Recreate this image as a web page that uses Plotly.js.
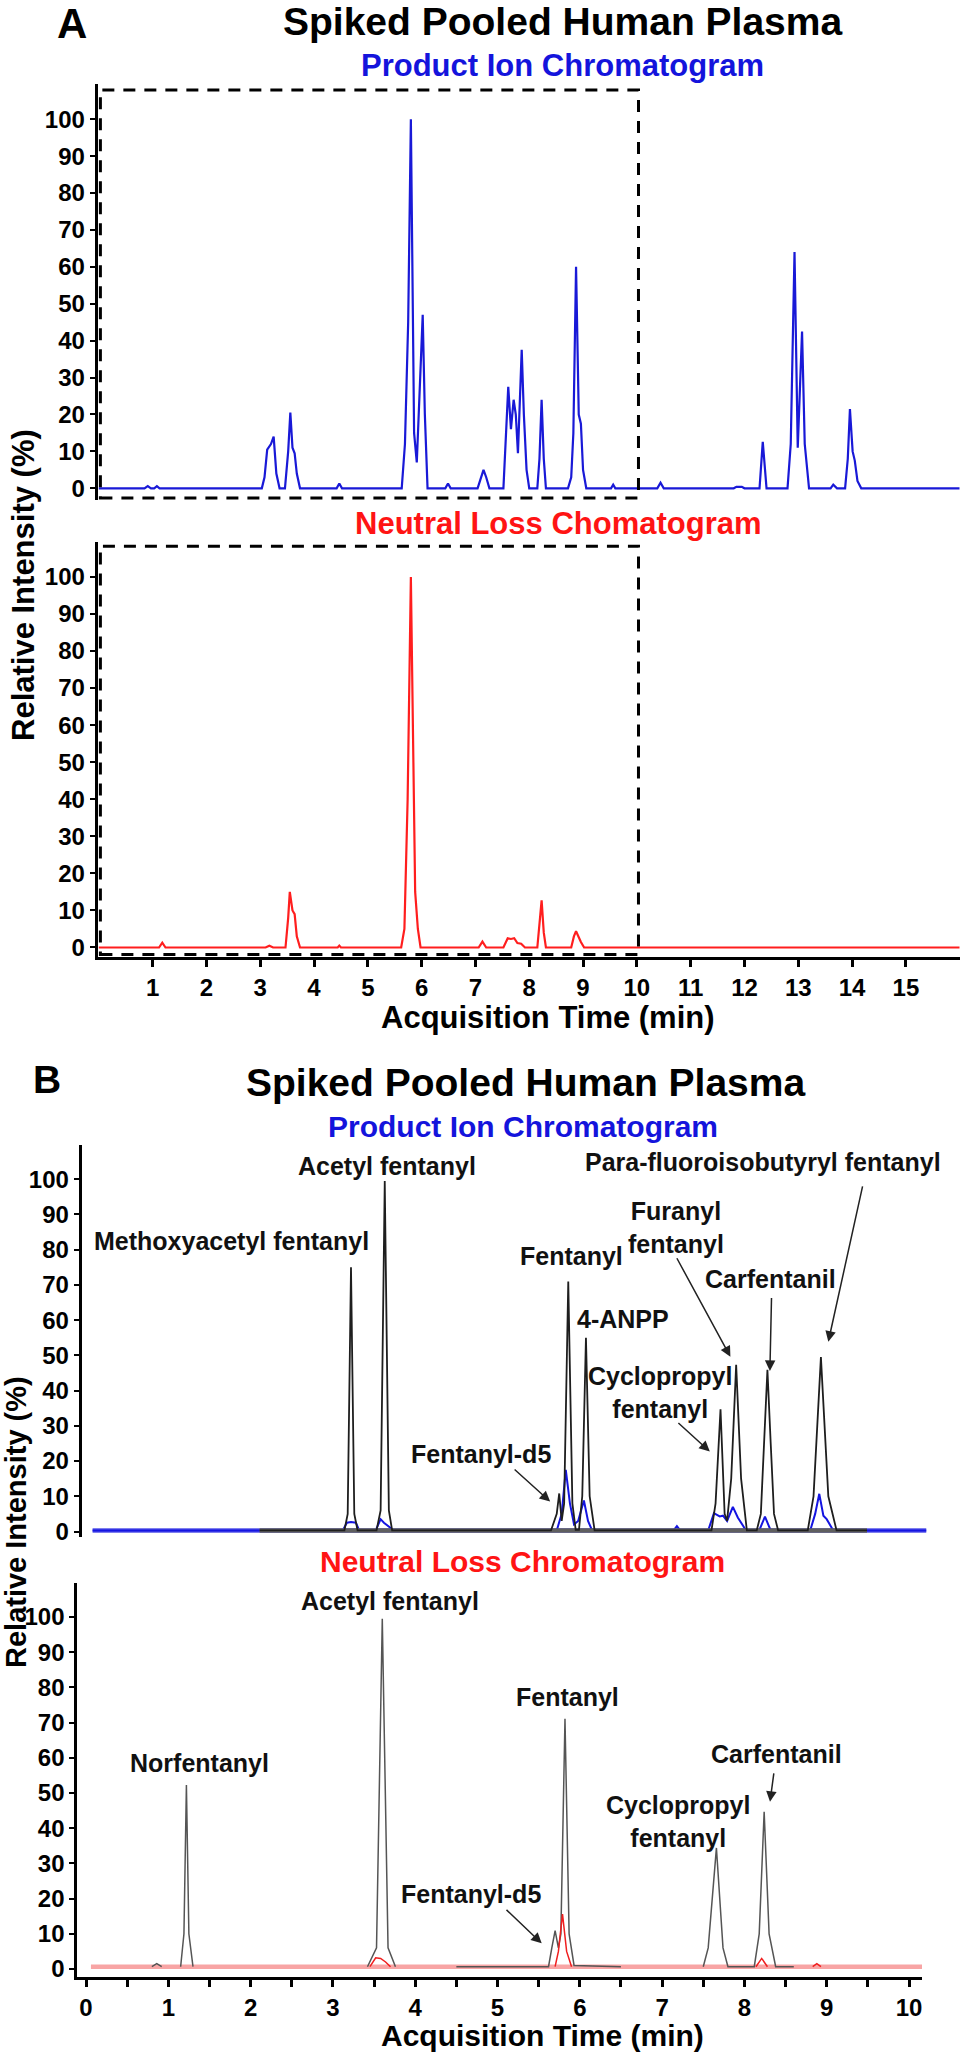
<!DOCTYPE html>
<html><head><meta charset="utf-8">
<script src="https://cdn.plot.ly/plotly-3.0.1.min.js"></script>
<style>html,body{margin:0;padding:0;background:#fff}#chart{width:961px;height:2053px}</style>
</head><body><div id="chart"></div>
<script>
// ---------- Panel A: full run (0-16 min) ----------
const aProductTime = [0, 0.85, 0.91, 0.97, 1.03, 1.08, 1.13, 3.03, 3.08, 3.13, 3.2, 3.25, 3.3, 3.36, 3.46, 3.52, 3.56, 3.6, 3.64, 3.68, 3.74, 4.42, 4.47, 4.52, 5.63, 5.69, 5.75, 5.8, 5.86, 5.91, 6.02, 6.06, 6.11, 6.44, 6.49, 6.54, 7.04, 7.1, 7.15, 7.2, 7.26, 7.52, 7.58, 7.61, 7.66, 7.71, 7.75, 7.79, 7.86, 7.9, 7.95, 8.0, 8.15, 8.19, 8.23, 8.27, 8.31, 8.72, 8.78, 8.82, 8.87, 8.92, 8.96, 9.0, 9.06, 9.52, 9.56, 9.6, 10.38, 10.44, 10.5, 11.8, 11.85, 11.95, 12.0, 12.28, 12.34, 12.41, 12.8, 12.86, 12.93, 12.99, 13.07, 13.12, 13.2, 13.6, 13.65, 13.72, 13.87, 13.92, 13.96, 14.01, 14.05, 14.1, 14.17, 16.0];
const aProductInt = [0, 0, 0.6, 0, 0, 0.6, 0, 0, 3, 10.5, 12, 14, 4, 0, 0, 10, 20.5, 11, 9.5, 4, 0, 0, 1.3, 0, 0, 12, 45, 100, 15, 7, 47, 20, 0, 0, 1.3, 0, 0, 3, 5, 3, 0, 0, 18, 27.5, 16, 24, 20, 9.5, 37.5, 20, 5, 0, 0, 8, 24, 8, 0, 0, 3, 15, 60, 20, 17.5, 5, 0, 0, 1, 0, 0, 1.5, 0, 0, 0.4, 0.4, 0, 0, 12.6, 0, 0, 12, 64, 11, 42.5, 12, 0, 0, 1, 0, 0, 8, 21.5, 10, 7.5, 2, 0, 0];

const aNeutralTime = [0, 1.12, 1.18, 1.24, 3.1, 3.17, 3.24, 3.47, 3.52, 3.55, 3.6, 3.64, 3.68, 3.74, 4.44, 4.47, 4.5, 5.62, 5.68, 5.74, 5.8, 5.85, 5.88, 5.93, 5.98, 7.06, 7.13, 7.2, 7.52, 7.6, 7.66, 7.72, 7.78, 7.85, 7.92, 8.15, 8.19, 8.23, 8.27, 8.31, 8.78, 8.83, 8.87, 8.92, 8.96, 9.02, 16.0];
const aNeutralInt = [0, 0, 1.3, 0, 0, 0.5, 0, 0, 8, 15, 10, 9, 3, 0, 0, 0.5, 0, 0, 5, 40, 100, 40, 15, 5, 0, 0, 1.6, 0, 0, 2.5, 2.3, 2.5, 1.2, 1, 0, 0, 6, 12.7, 4, 0, 0, 3, 4.4, 2.5, 1.5, 0, 0];

// ---------- Panel B top: product ion (sample = blue, standards = black) ----------
const bProductTime = [0.08, 3.12, 3.17, 3.22, 3.28, 3.32, 3.52, 3.58, 3.62, 3.68, 3.74, 5.72, 5.78, 5.83, 5.88, 5.93, 5.98, 6.05, 6.1, 6.15, 7.14, 7.18, 7.22, 7.56, 7.63, 7.7, 7.74, 7.79, 7.86, 7.92, 8.02, 8.18, 8.25, 8.32, 8.8, 8.86, 8.91, 8.96, 9.0, 9.08, 10.21];
const bProductInt = [0.3, 0.3, 2.5, 2.7, 2.5, 0.3, 0.3, 3.5, 2.5, 1.5, 0.3, 0.3, 5, 17.5, 8, 2, 3, 8.8, 3, 0.3, 0.3, 1.5, 0.3, 0.3, 5.2, 4.3, 4.5, 3, 7, 4, 0.3, 0.3, 4.2, 0.3, 0.3, 5, 10.7, 4.5, 3.5, 0.3, 0.3];
const bStandardTime = [2.11, 3.14, 3.18, 3.22, 3.26, 3.3, 3.53, 3.58, 3.63, 3.68, 3.72, 5.65, 5.72, 5.75, 5.78, 5.81, 5.86, 5.91, 5.95, 5.99, 6.03, 6.075, 6.12, 6.18, 7.6, 7.65, 7.71, 7.76, 7.79, 7.84, 7.9, 7.96, 8.03, 8.15, 8.2, 8.24, 8.28, 8.32, 8.36, 8.41, 8.77, 8.84, 8.93, 9.02, 9.12, 9.49];
const bStandardInt = [0.3, 0.3, 5, 75, 5, 0.3, 0.3, 6, 99.5, 6, 0.3, 0.3, 5, 10.8, 3, 8, 71, 8, 0.5, 0.5, 10, 55, 10, 0.3, 0.3, 8, 34.7, 5, 3, 15, 47.3, 15, 0.3, 0.3, 5, 25, 45.9, 25, 5, 0.3, 0.3, 10, 49.5, 10, 0.3, 0.3];
const bBlueBaseTime = [0.08, 10.21];
const bBlueBaseInt = [0.3, 0.3];
const bGreyBaseTime = [2.11, 9.49];
const bGreyBaseInt = [0.3, 0.3];

// ---------- Panel B bottom: neutral loss (sample = red, standards = grey) ----------
const cStandardTime = [0.8, 0.86, 0.92, null, 1.15, 1.19, 1.22, 1.25, 1.3, null, 3.42, 3.53, 3.6, 3.67, 3.76, null, 4.5, 5.62, 5.66, 5.7, 5.74, 5.77, 5.82, 5.87, 5.93, 6.5, null, 7.5, 7.56, 7.66, 7.74, 7.8, 8.12, 8.18, 8.24, 8.3, 8.38, 8.6];
const cStandardInt = [0.65, 1.5, 0.65, null, 0.65, 10, 52.3, 10, 0.65, null, 0.65, 6, 99.5, 6, 0.65, null, 0.65, 0.65, 6, 10.9, 6, 10, 71.1, 10, 1, 0.65, null, 0.65, 6, 34.4, 6, 0.65, 0.65, 10, 44.7, 10, 0.65, 0.65];
const cNeutralTime = [3.45, 3.52, 3.58, 3.64, 3.7, null, 5.7, 5.74, 5.79, 5.84, 5.9, null, 8.14, 8.21, 8.28, null, 8.83, 8.88, 8.93];
const cNeutralInt = [0.65, 3.2, 3, 2, 0.65, null, 0.65, 5, 15.6, 5, 0.65, null, 0.65, 3, 0.65, null, 0.65, 1.5, 0.65];
const cPinkBaseTime = [0.06, 10.2];
const cPinkBaseInt = [0.65, 0.65];

// ---------- ticks ----------
const yTickVals = [0, 10, 20, 30, 40, 50, 60, 70, 80, 90, 100];
const aXTickVals = [1, 2, 3, 4, 5, 6, 7, 8, 9, 10, 11, 12, 13, 14, 15];
const bXTickVals = [0, 0.5, 1, 1.5, 2, 2.5, 3, 3.5, 4, 4.5, 5, 5.5, 6, 6.5, 7, 7.5, 8, 8.5, 9, 9.5, 10];
const bXTickText = ['0', '', '1', '', '2', '', '3', '', '4', '', '5', '', '6', '', '7', '', '8', '', '9', '', '10'];

const FONT = 'Liberation Sans, Arial, sans-serif';
const W = 961, H = 2053;
const px = v => v / W;
const py = v => 1 - v / H;

const traces = [
  {x: aProductTime, y: aProductInt, xaxis: 'x', yaxis: 'y', mode: 'lines', line: {color: 'rgb(25,25,215)', width: 2.2}},
  {x: aNeutralTime, y: aNeutralInt, xaxis: 'x2', yaxis: 'y2', mode: 'lines', line: {color: 'rgb(255,30,30)', width: 2.2}},
  {x: bBlueBaseTime, y: bBlueBaseInt, xaxis: 'x3', yaxis: 'y3', mode: 'lines', line: {color: 'rgb(85,85,232)', width: 4.5}},
  {x: bProductTime, y: bProductInt, xaxis: 'x3', yaxis: 'y3', mode: 'lines', line: {color: 'rgb(20,20,225)', width: 2}},
  {x: bGreyBaseTime, y: bGreyBaseInt, xaxis: 'x3', yaxis: 'y3', mode: 'lines', line: {color: 'rgb(95,95,95)', width: 4.5}},
  {x: bStandardTime, y: bStandardInt, xaxis: 'x3', yaxis: 'y3', mode: 'lines', line: {color: 'rgb(30,30,30)', width: 1.8}},
  {x: cPinkBaseTime, y: cPinkBaseInt, xaxis: 'x4', yaxis: 'y4', mode: 'lines', line: {color: 'rgb(248,165,165)', width: 4.5}},
  {x: cStandardTime, y: cStandardInt, xaxis: 'x4', yaxis: 'y4', mode: 'lines', connectgaps: false, line: {color: 'rgb(85,85,85)', width: 1.5}},
  {x: cNeutralTime, y: cNeutralInt, xaxis: 'x4', yaxis: 'y4', mode: 'lines', connectgaps: false, line: {color: 'rgb(240,30,30)', width: 1.5}}
];

const tickFont = {family: FONT, size: 24, color: '#000', weight: 'bold'};
function yAxis(domain, range, anchor) {
  return {domain: domain, range: range, anchor: anchor, tickmode: 'array', tickvals: yTickVals,
    ticks: 'outside', ticklen: 5, tickwidth: 2, tickcolor: '#000', showline: true, linewidth: 3,
    linecolor: '#000', showgrid: false, zeroline: false, tickfont: tickFont, fixedrange: true};
}
function hiddenX(domain, range, anchor) {
  return {domain: domain, range: range, anchor: anchor, showline: false, showticklabels: false,
    ticks: '', showgrid: false, zeroline: false, fixedrange: true};
}

function txt(text, x, y, size, color, extra) {
  return Object.assign({text: '<b>' + text + '</b>', x: px(x), y: py(y), xref: 'paper', yref: 'paper',
    showarrow: false, xanchor: 'center', yanchor: 'middle',
    font: {family: FONT, size: size, color: color || '#000'}}, extra || {});
}
function lab(text, x, y, ax) {
  return {text: '<b>' + text + '</b>', x: x, y: y, xref: 'x' + ax, yref: 'y' + ax, showarrow: false,
    xanchor: 'center', yanchor: 'middle', font: {family: FONT, size: 25, color: '#111'}};
}
function arrow(hx, hy, tx, ty, ax) {
  return {text: '', x: hx, y: hy, xref: 'x' + ax, yref: 'y' + ax, ax: tx, ay: ty,
    axref: 'x' + ax, ayref: 'y' + ax, showarrow: true, arrowhead: 2, arrowsize: 1.4,
    arrowwidth: 1.5, arrowcolor: '#222', standoff: 0};
}

const annotations = [
  txt('A', 72, 23, 42),
  txt('Spiked Pooled Human Plasma', 562, 22, 39),
  txt('Product Ion Chromatogram', 562, 66, 31, 'rgb(20,20,220)'),
  txt('Neutral Loss Chomatogram', 558, 523, 31, 'rgb(255,20,20)'),
  txt('Acquisition Time (min)', 548, 1017, 31),
  txt('Relative Intensity (%)', 23, 585, 31, '#000', {textangle: -90}),
  txt('B', 47, 1079, 39),
  txt('Spiked Pooled Human Plasma', 525, 1082, 39),
  txt('Product Ion Chromatogram', 523, 1126, 30, 'rgb(20,20,220)'),
  txt('Neutral Loss Chromatogram', 522, 1561, 30, 'rgb(255,20,20)'),
  txt('Acquisition Time (min)', 542, 2035, 30),
  txt('Relative Intensity (%)', 16, 1522, 29, '#000', {textangle: -90}),

  lab('Acetyl fentanyl', 3.657, 103.9, 3),
  lab('Methoxyacetyl fentanyl', 1.774, 82.6, 3),
  lab('Fentanyl', 5.905, 78.3, 3),
  lab('Para-fluoroisobutyryl fentanyl', 8.226, 104.8, 3),
  lab('Furanyl<br>fentanyl', 7.169, 86.4, 3),
  lab('Carfentanil', 8.323, 71.7, 3),
  lab('4-ANPP', 6.525, 60.3, 3),
  lab('Cyclopropyl<br>fentanyl', 6.975, 39.5, 3),
  lab('Fentanyl-d5', 4.80, 22.0, 3),
  arrow(7.83, 49.6, 7.17, 78.0, 3),
  arrow(8.31, 45.6, 8.33, 66.7, 3),
  arrow(9.02, 53.9, 9.44, 98.4, 3),
  arrow(7.58, 22.7, 7.18, 31.2, 3),
  arrow(5.64, 8.5, 5.19, 18.0, 3),

  lab('Acetyl fentanyl', 3.694, 104.7, 4),
  lab('Fentanyl', 5.851, 77.2, 4),
  lab('Norfentanyl', 1.373, 58.4, 4),
  lab('Carfentanil', 8.396, 61.1, 4),
  lab('Cyclopropyl<br>fentanyl', 7.193, 41.9, 4),
  lab('Fentanyl-d5', 4.678, 21.3, 4),
  arrow(8.311, 47.5, 8.36, 56.0, 4),
  arrow(5.537, 7.3, 5.091, 17.2, 4)
];

const boxLine = {color: '#000', width: 3, dash: '12px,9px'};
const shapes = [
  {type: 'rect', xref: 'x', yref: 'y', x0: 0.03, x1: 10.03, y0: -2.6, y1: 107.9, line: boxLine, layer: 'above'},
  {type: 'rect', xref: 'x2', yref: 'y2', x0: 0.03, x1: 10.03, y0: -1.9, y1: 108.3, line: boxLine, layer: 'above'}
];

const layout = {
  width: W, height: H, margin: {l: 0, r: 0, t: 0, b: 0, pad: 0},
  paper_bgcolor: '#fff', plot_bgcolor: 'rgba(0,0,0,0)', showlegend: false, hovermode: false,
  font: {family: FONT, color: '#000'},
  xaxis: hiddenX([0.10167, 0.99865], [-0.02, 16.0], 'y'),
  yaxis: yAxis([0.75640, 0.95899], [-3.2, 109.5], 'x'),
  xaxis2: {domain: [0.10167, 0.99865], range: [-0.02, 16.0], anchor: 'y2', tickmode: 'array',
    tickvals: aXTickVals, ticks: 'outside', ticklen: 7, tickwidth: 3, tickcolor: '#000',
    showline: true, linewidth: 3, linecolor: '#000', showgrid: false, zeroline: false,
    tickfont: tickFont, fixedrange: true},
  yaxis2: yAxis([0.53388, 0.73614], [-2.55, 109.5], 'x2'),
  xaxis3: hiddenX([0.08502, 0.96462], [-0.0522, 10.219], 'y3'),
  yaxis3: yAxis([0.25144, 0.44223], [-1.5, 109.7], 'x3'),
  xaxis4: {domain: [0.08044, 0.95942], range: [-0.1057, 10.158], anchor: 'y4', tickmode: 'array',
    tickvals: bXTickVals, ticktext: bXTickText, ticks: 'outside', ticklen: 7, tickwidth: 3,
    tickcolor: '#000', showline: true, linewidth: 3, linecolor: '#000', showgrid: false,
    zeroline: false, tickfont: tickFont, fixedrange: true},
  yaxis4: yAxis([0.03697, 0.22898], [-2.3, 109.7], 'x4'),
  annotations: annotations,
  shapes: shapes
};

Plotly.newPlot('chart', traces, layout, {displayModeBar: false, staticPlot: true});
</script></body></html>
